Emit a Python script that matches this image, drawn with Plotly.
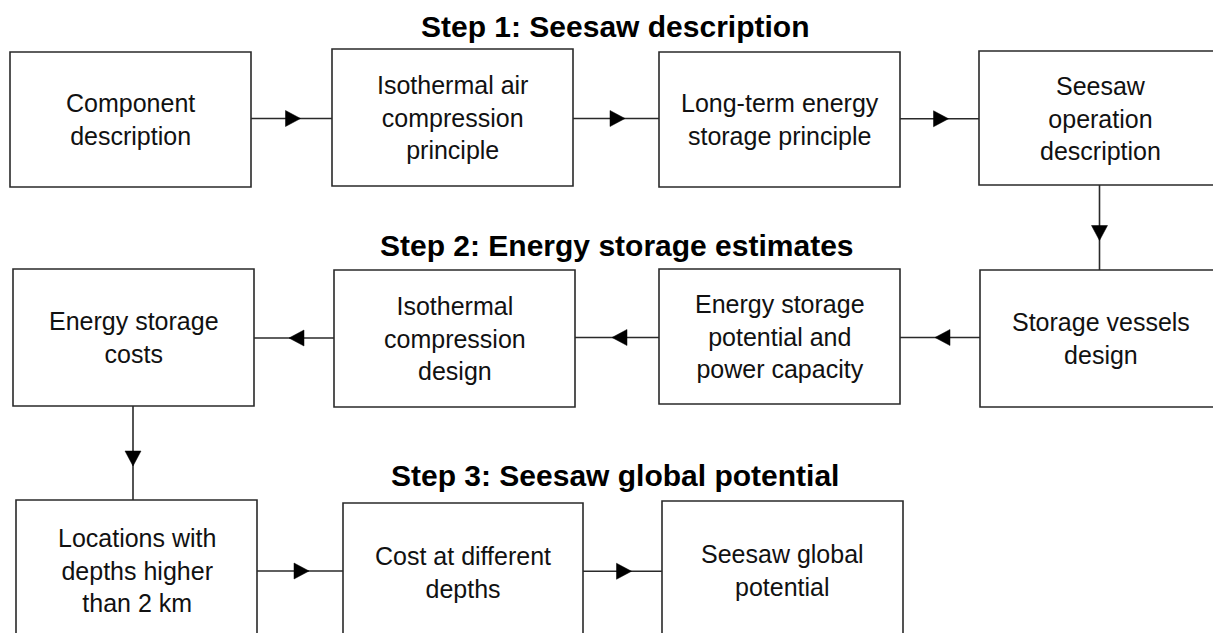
import plotly.graph_objects as go

# ---- content ----
step_titles = ["Step 1: Seesaw description",
               "Step 2: Energy storage estimates",
               "Step 3: Seesaw global potential"]

box_labels = [
    "Component<br>description",
    "Isothermal air<br>compression<br>principle",
    "Long-term energy<br>storage principle",
    "Seesaw<br>operation<br>description",
    "Storage vessels<br>design",
    "Energy storage<br>potential and<br>power capacity",
    "Isothermal<br>compression<br>design",
    "Energy storage<br>costs",
    "Locations with<br>depths higher<br>than 2 km",
    "Cost at different<br>depths",
    "Seesaw global<br>potential",
]

# flow order: (from, to)
connections = [(0, 1), (1, 2), (2, 3), (3, 4), (4, 5), (5, 6), (6, 7), (7, 8), (8, 9), (9, 10)]

# ---- layout geometry (pixels, y downwards) ----
box_x0 = [10, 332, 659, 979, 980, 659, 334, 13, 16, 343, 662]
box_x1 = [251, 573, 900, 1221, 1221, 900, 575, 254, 257, 583, 903]
box_y0 = [52, 49, 52, 51, 270, 269, 270, 269, 500, 503, 501]
box_y1 = [187, 186, 187, 185, 407, 404, 407, 406, 640, 641, 640]

title_x = [615, 617, 615]
title_y = [26, 245, 475]

W, H = 1213, 633
line_col = "#2a2a2a"
text_col = "#111111"
font_family = "Liberation Sans, Arial, sans-serif"

fig = go.Figure()
shapes = []
annotations = []

# boxes
for lab, x0, x1, y0, y1 in zip(box_labels, box_x0, box_x1, box_y0, box_y1):
    shapes.append(dict(type="rect", x0=x0, x1=x1, y0=y0, y1=y1,
                       line=dict(color=line_col, width=1.6), fillcolor="white", layer="below"))
    annotations.append(dict(x=(x0 + x1) / 2, y=(y0 + y1) / 2, text=lab, showarrow=False,
                            xanchor="center", yanchor="middle", align="center",
                            font=dict(family=font_family, size=25, color=text_col)))

# connectors with mid-line arrowheads
head_len, head_half = 15, 8
for a, b in connections:
    ca = ((box_x0[a] + box_x1[a]) / 2, (box_y0[a] + box_y1[a]) / 2)
    cb = ((box_x0[b] + box_x1[b]) / 2, (box_y0[b] + box_y1[b]) / 2)
    if abs(ca[1] - cb[1]) < 40:  # horizontal
        y = (ca[1] + cb[1]) / 2
        if cb[0] > ca[0]:
            xs, xe = box_x1[a], box_x0[b]
            d, tipoff = 1, 9
        else:
            xs, xe = box_x0[a], box_x1[b]
            d, tipoff = -1, 5
        mid = (xs + xe) / 2
        shapes.append(dict(type="line", x0=xs, x1=xe, y0=y, y1=y,
                           line=dict(color=line_col, width=1.6)))
        tip = mid + d * tipoff
        base = tip - d * head_len
        shapes.append(dict(type="path",
                           path=f"M{tip},{y} L{base},{y - head_half} L{base},{y + head_half} Z",
                           fillcolor="black", line=dict(color="black", width=0.5)))
    else:  # vertical, downward
        x = ca[0] - 0.5
        ys, ye = box_y1[a], box_y0[b]
        mid = (ys + ye) / 2
        shapes.append(dict(type="line", x0=x, x1=x, y0=ys, y1=ye,
                           line=dict(color=line_col, width=1.6)))
        tip = mid + 13
        base = tip - head_len
        shapes.append(dict(type="path",
                           path=f"M{x},{tip} L{x - head_half},{base} L{x + head_half},{base} Z",
                           fillcolor="black", line=dict(color="black", width=0.5)))

# step titles
for t, x, y in zip(step_titles, title_x, title_y):
    annotations.append(dict(x=x, y=y, text=f"<b>{t}</b>", showarrow=False,
                            xanchor="center", yanchor="middle",
                            font=dict(family=font_family, size=30, color="black")))

fig.update_layout(
    width=W, height=H,
    margin=dict(l=0, r=0, t=0, b=0),
    paper_bgcolor="white", plot_bgcolor="white",
    xaxis=dict(range=[0, W], visible=False, fixedrange=True),
    yaxis=dict(range=[H, 0], visible=False, fixedrange=True),
    shapes=shapes, annotations=annotations, showlegend=False,
)

fig.write_html("out.html", config={"displayModeBar": False},
               post_script="document.body.style.margin='0';document.body.style.overflow='hidden';")
